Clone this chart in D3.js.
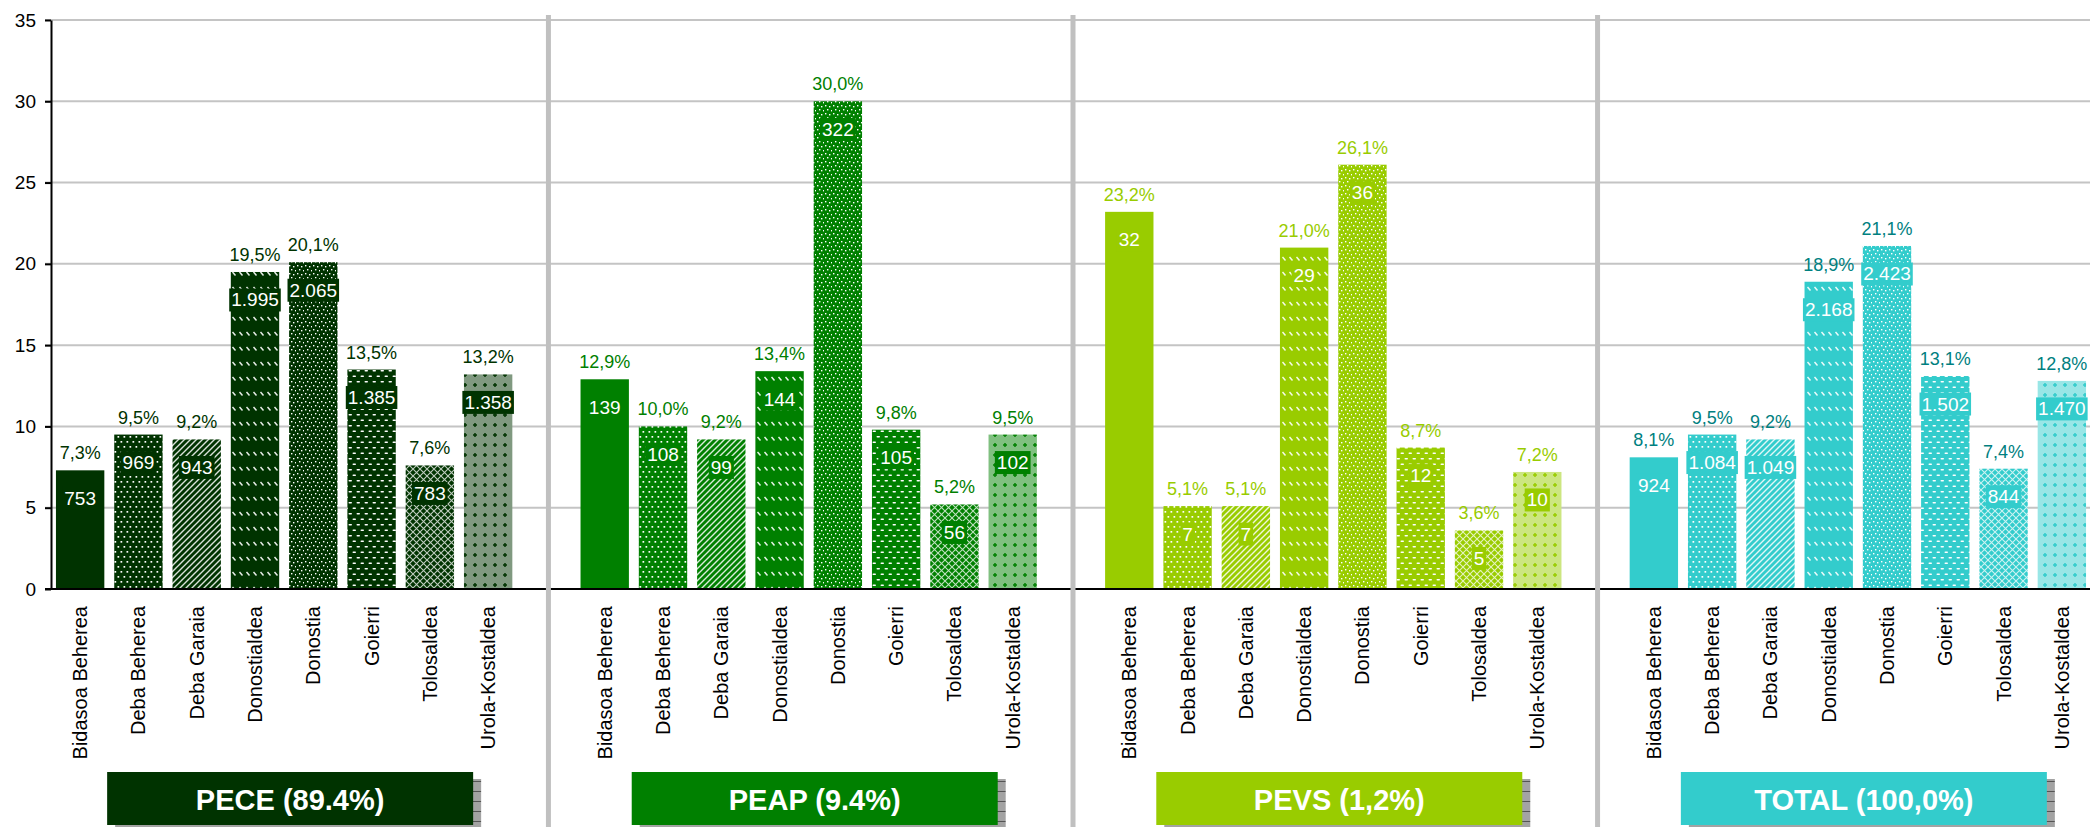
<!DOCTYPE html>
<meta charset="utf-8">
<head>
    <style>
        body { margin: 0; background: #fff; }
        svg text { font-family: "Liberation Sans", Arial, sans-serif; }
        .grid line { stroke: #c4c4c4; stroke-width: 2; }
        .yaxis path, .yaxis line { stroke: #000; stroke-width: 2; }
        .yaxis text { font-size: 19px; fill: #000; }
    </style>
    <script src="https://d3js.org/d3.v7.min.js"></script>
</head>
<body>
<svg id="chart"></svg>
<script>

    var regions = ["Bidasoa Beherea", "Deba Beherea", "Deba Garaia", "Donostialdea",
                   "Donostia", "Goierri", "Tolosaldea", "Urola-Kostaldea"];
    var panels = ["PECE", "PEAP", "PEVS", "TOTAL"];
    var panelTitles = ["PECE (89.4%)", "PEAP (9.4%)", "PEVS (1,2%)", "TOTAL (100,0%)"];
    var panelColors = ["#003300", "#008000", "#99cc00", "#33cccc"];
    var labelColors = ["#003300", "#008000", "#99cc00", "#008080"];

    // % of each region inside the group (bar height) and number of people (inner label)
    var pecePct   = [7.3, 9.5, 9.2, 19.5, 20.1, 13.5, 7.6, 13.2];
    var peceCount = [753, 969, 943, 1995, 2065, 1385, 783, 1358];
    var peapPct   = [12.9, 10.0, 9.2, 13.4, 30.0, 9.8, 5.2, 9.5];
    var peapCount = [139, 108, 99, 144, 322, 105, 56, 102];
    var pevsPct   = [23.2, 5.1, 5.1, 21.0, 26.1, 8.7, 3.6, 7.2];
    var pevsCount = [32, 7, 7, 29, 36, 12, 5, 10];
    var totalPct   = [8.1, 9.5, 9.2, 18.9, 21.1, 13.1, 7.4, 12.8];
    var totalCount = [924, 1084, 1049, 2168, 2423, 1502, 844, 1470];

    var yTicks = [0, 5, 10, 15, 20, 25, 30, 35];

    var pctByPanel = [pecePct, peapPct, pevsPct, totalPct];
    var countByPanel = [peceCount, peapCount, pevsCount, totalCount];
    var patternTypes = ["solid", "dots", "diag", "dashDiag", "confetti", "hdash", "trellis", "plusCheck"];

    var width = 2090, height = 827;

    var locale = d3.formatLocale({decimal: ",", thousands: ".", grouping: [3], currency: ["", "€"]});
    var fmtCount = locale.format(",d");
    var fmtPct = locale.format(".1f");

    var svg = d3.select("#chart")
        .attr("width", width)
        .attr("height", height);

    // one band per bar plus an empty band between groups
    var keys = [];
    panels.forEach(function(p, i){
        regions.forEach(function(r){ keys.push(p + "|" + r); });
        if(i < panels.length - 1) keys.push("gap" + i);
    });

    var x = d3.scaleBand()
        .domain(keys)
        .range([51, 2091])
        .paddingInner(0.17)
        .paddingOuter(0.085);

    var y = d3.scaleLinear()
        .domain([0, 35])
        .range([589, 20]);

    var rows = [];
    panels.forEach(function(p, pi){
        regions.forEach(function(r, ri){
            rows.push({panel: pi, region: ri, key: p + "|" + r,
                       pct: pctByPanel[pi][ri], count: countByPanel[pi][ri]});
        });
    });

    // fill patterns, white marks over the group colour
    var defs = svg.append("defs");

    function makePattern(pi, type){
        var c = panelColors[pi];
        var id = "pat" + pi + type;
        var size = {dots: [6, 10], diag: [6, 6], dashDiag: [7, 15], confetti: [8, 8],
                    hdash: [8, 11], trellis: [7, 7], plusCheck: [10, 10]}[type];
        var pat = defs.append("pattern")
            .attr("id", id)
            .attr("patternUnits", "userSpaceOnUse")
            .attr("width", size[0])
            .attr("height", size[1]);
        pat.append("rect").attr("width", size[0]).attr("height", size[1]).attr("fill", c);
        if(type == "dots"){
            [[0.5, 1], [3.5, 6]].forEach(function(d){
                pat.append("rect").attr("x", d[0]).attr("y", d[1]).attr("width", 1.7).attr("height", 1.7).attr("fill", "#fff");
            });
        } else if(type == "diag"){
            pat.append("path").attr("d", "M-1,1 l2,-2 M0,6 l6,-6 M5,7 l2,-2")
                .attr("stroke", "#fff").attr("stroke-width", 1.4).attr("opacity", 0.85);
        } else if(type == "dashDiag"){
            pat.append("path").attr("d", "M1.5,2 l3,3.5")
                .attr("stroke", "#fff").attr("stroke-width", 1.5).attr("opacity", 0.9);
        } else if(type == "confetti"){
            [[1, 1], [5, 2], [3, 5], [7, 6]].forEach(function(d){
                pat.append("rect").attr("x", d[0]).attr("y", d[1]).attr("width", 1.4).attr("height", 1.4).attr("fill", "#fff");
            });
        } else if(type == "hdash"){
            pat.append("rect").attr("x", 0.5).attr("y", 1.5).attr("width", 3.5).attr("height", 1.6).attr("rx", 0.8).attr("fill", "#fff");
            pat.append("rect").attr("x", 4.5).attr("y", 7).attr("width", 3.5).attr("height", 1.6).attr("rx", 0.8).attr("fill", "#fff");
        } else if(type == "trellis"){
            pat.append("path").attr("d", "M0,0 L7,7 M7,0 L0,7")
                .attr("stroke", "#fff").attr("stroke-width", 1.1).attr("opacity", 0.75);
        } else if(type == "plusCheck"){
            pat.append("rect").attr("width", size[0]).attr("height", size[1]).attr("fill", "#fff").attr("opacity", 0.5);
            pat.append("path").attr("d", "M5,3 v4 M3,5 h4")
                .attr("stroke", c).attr("stroke-width", 1.5);
        }
        return "url(#" + id + ")";
    }

    var fills = {};
    panels.forEach(function(p, pi){
        patternTypes.forEach(function(t){
            fills[pi + t] = t == "solid" ? panelColors[pi] : makePattern(pi, t);
        });
    });

    // shadow texture for the title boxes
    var sh = defs.append("pattern")
        .attr("id", "shadowLines")
        .attr("patternUnits", "userSpaceOnUse")
        .attr("width", 10).attr("height", 10);
    sh.append("rect").attr("width", 10).attr("height", 10).attr("fill", "#a3a3a3");
    sh.append("line").attr("x1", 0).attr("x2", 10).attr("y1", 9.5).attr("y2", 9.5)
        .attr("stroke", "#555").attr("stroke-width", 1);

    // gridlines
    svg.append("g")
        .attr("class", "grid")
        .selectAll("line")
        .data(yTicks.filter(function(d){ return d > 0; }))
        .enter()
        .append("line")
        .attr("x1", 45)
        .attr("x2", width)
        .attr("y1", function(d){ return y(d); })
        .attr("y2", function(d){ return y(d); });

    // bars
    svg.append("g")
        .selectAll("rect")
        .data(rows)
        .enter()
        .append("rect")
        .attr("x", function(d){ return x(d.key); })
        .attr("y", function(d){ return y(d.pct); })
        .attr("width", x.bandwidth())
        .attr("height", function(d){ return y(0) - y(d.pct); })
        .style("fill", function(d){ return fills[d.panel + patternTypes[d.region]]; });

    // percentage labels above the bars
    svg.append("g")
        .selectAll("text")
        .data(rows)
        .enter()
        .append("text")
        .attr("x", function(d){ return x(d.key) + x.bandwidth() / 2; })
        .attr("y", function(d){ return y(d.pct) - 17; })
        .attr("text-anchor", "middle")
        .attr("dominant-baseline", "central")
        .style("font-size", "18px")
        .style("fill", function(d){ return labelColors[d.panel]; })
        .text(function(d){ return fmtPct(d.pct) + "%"; });

    // count labels inside the bars, on a box of the group colour
    var countG = svg.append("g")
        .selectAll("g")
        .data(rows)
        .enter()
        .append("g")
        .attr("transform", function(d){
            return "translate(" + (x(d.key) + x.bandwidth() / 2) + "," + (y(d.pct) + 28) + ")";
        });

    countG.append("rect")
        .attr("y", -11.5)
        .attr("height", 23)
        .style("fill", function(d){ return panelColors[d.panel]; });

    countG.append("text")
        .attr("text-anchor", "middle")
        .attr("dominant-baseline", "central")
        .style("font-size", "19px")
        .style("fill", "#fff")
        .text(function(d){ return fmtCount(d.count); });

    countG.each(function(){
        var g = d3.select(this);
        var w = g.select("text").node().getComputedTextLength() + 4;
        g.select("rect").attr("x", -w / 2).attr("width", w);
    });

    // x axis line and y axis
    svg.append("line")
        .attr("x1", 45)
        .attr("x2", width)
        .attr("y1", y(0))
        .attr("y2", y(0))
        .style("stroke", "#000")
        .style("stroke-width", 2);

    svg.append("g")
        .attr("class", "yaxis")
        .attr("transform", "translate(51,0)")
        .call(d3.axisLeft(y).tickValues(yTicks).tickSize(6).tickSizeOuter(0).tickPadding(9));

    // category labels, rotated
    svg.append("g")
        .selectAll("text")
        .data(rows)
        .enter()
        .append("text")
        .attr("transform", function(d){
            return "translate(" + (x(d.key) + x.bandwidth() / 2) + ",606)rotate(-90)";
        })
        .attr("text-anchor", "end")
        .attr("dominant-baseline", "central")
        .style("font-size", "20px")
        .style("fill", "#000")
        .text(function(d){ return regions[d.region]; });

    // grey separators between groups
    svg.append("g")
        .selectAll("line")
        .data(keys.filter(function(k){ return k.indexOf("gap") == 0; }))
        .enter()
        .append("line")
        .attr("x1", function(k){ return x(k) + x.bandwidth() / 2 + 2; })
        .attr("x2", function(k){ return x(k) + x.bandwidth() / 2 + 2; })
        .attr("y1", 15)
        .attr("y2", height)
        .style("stroke", "#c0c0c0")
        .style("stroke-width", 5);

    // group title boxes with shadow
    var titleW = 366, titleH = 53;
    var titles = svg.append("g")
        .selectAll("g")
        .data(panels)
        .enter()
        .append("g")
        .attr("transform", function(p){
            var cx = (x(p + "|" + regions[0]) + x(p + "|" + regions[regions.length - 1]) + x.bandwidth()) / 2 + 6;
            return "translate(" + cx + ",772)";
        });

    titles.append("rect")
        .attr("x", -titleW / 2 + 8)
        .attr("y", 7)
        .attr("width", titleW)
        .attr("height", titleH)
        .style("fill", "url(#shadowLines)");

    titles.append("rect")
        .attr("x", -titleW / 2)
        .attr("y", 0)
        .attr("width", titleW)
        .attr("height", titleH)
        .style("fill", function(p, i){ return panelColors[i]; });

    titles.append("text")
        .attr("x", 0)
        .attr("y", titleH / 2 + 1)
        .attr("text-anchor", "middle")
        .attr("dominant-baseline", "central")
        .style("font-size", "29px")
        .style("font-weight", "bold")
        .style("fill", "#fff")
        .text(function(p, i){ return panelTitles[i]; });

</script>
</body>
